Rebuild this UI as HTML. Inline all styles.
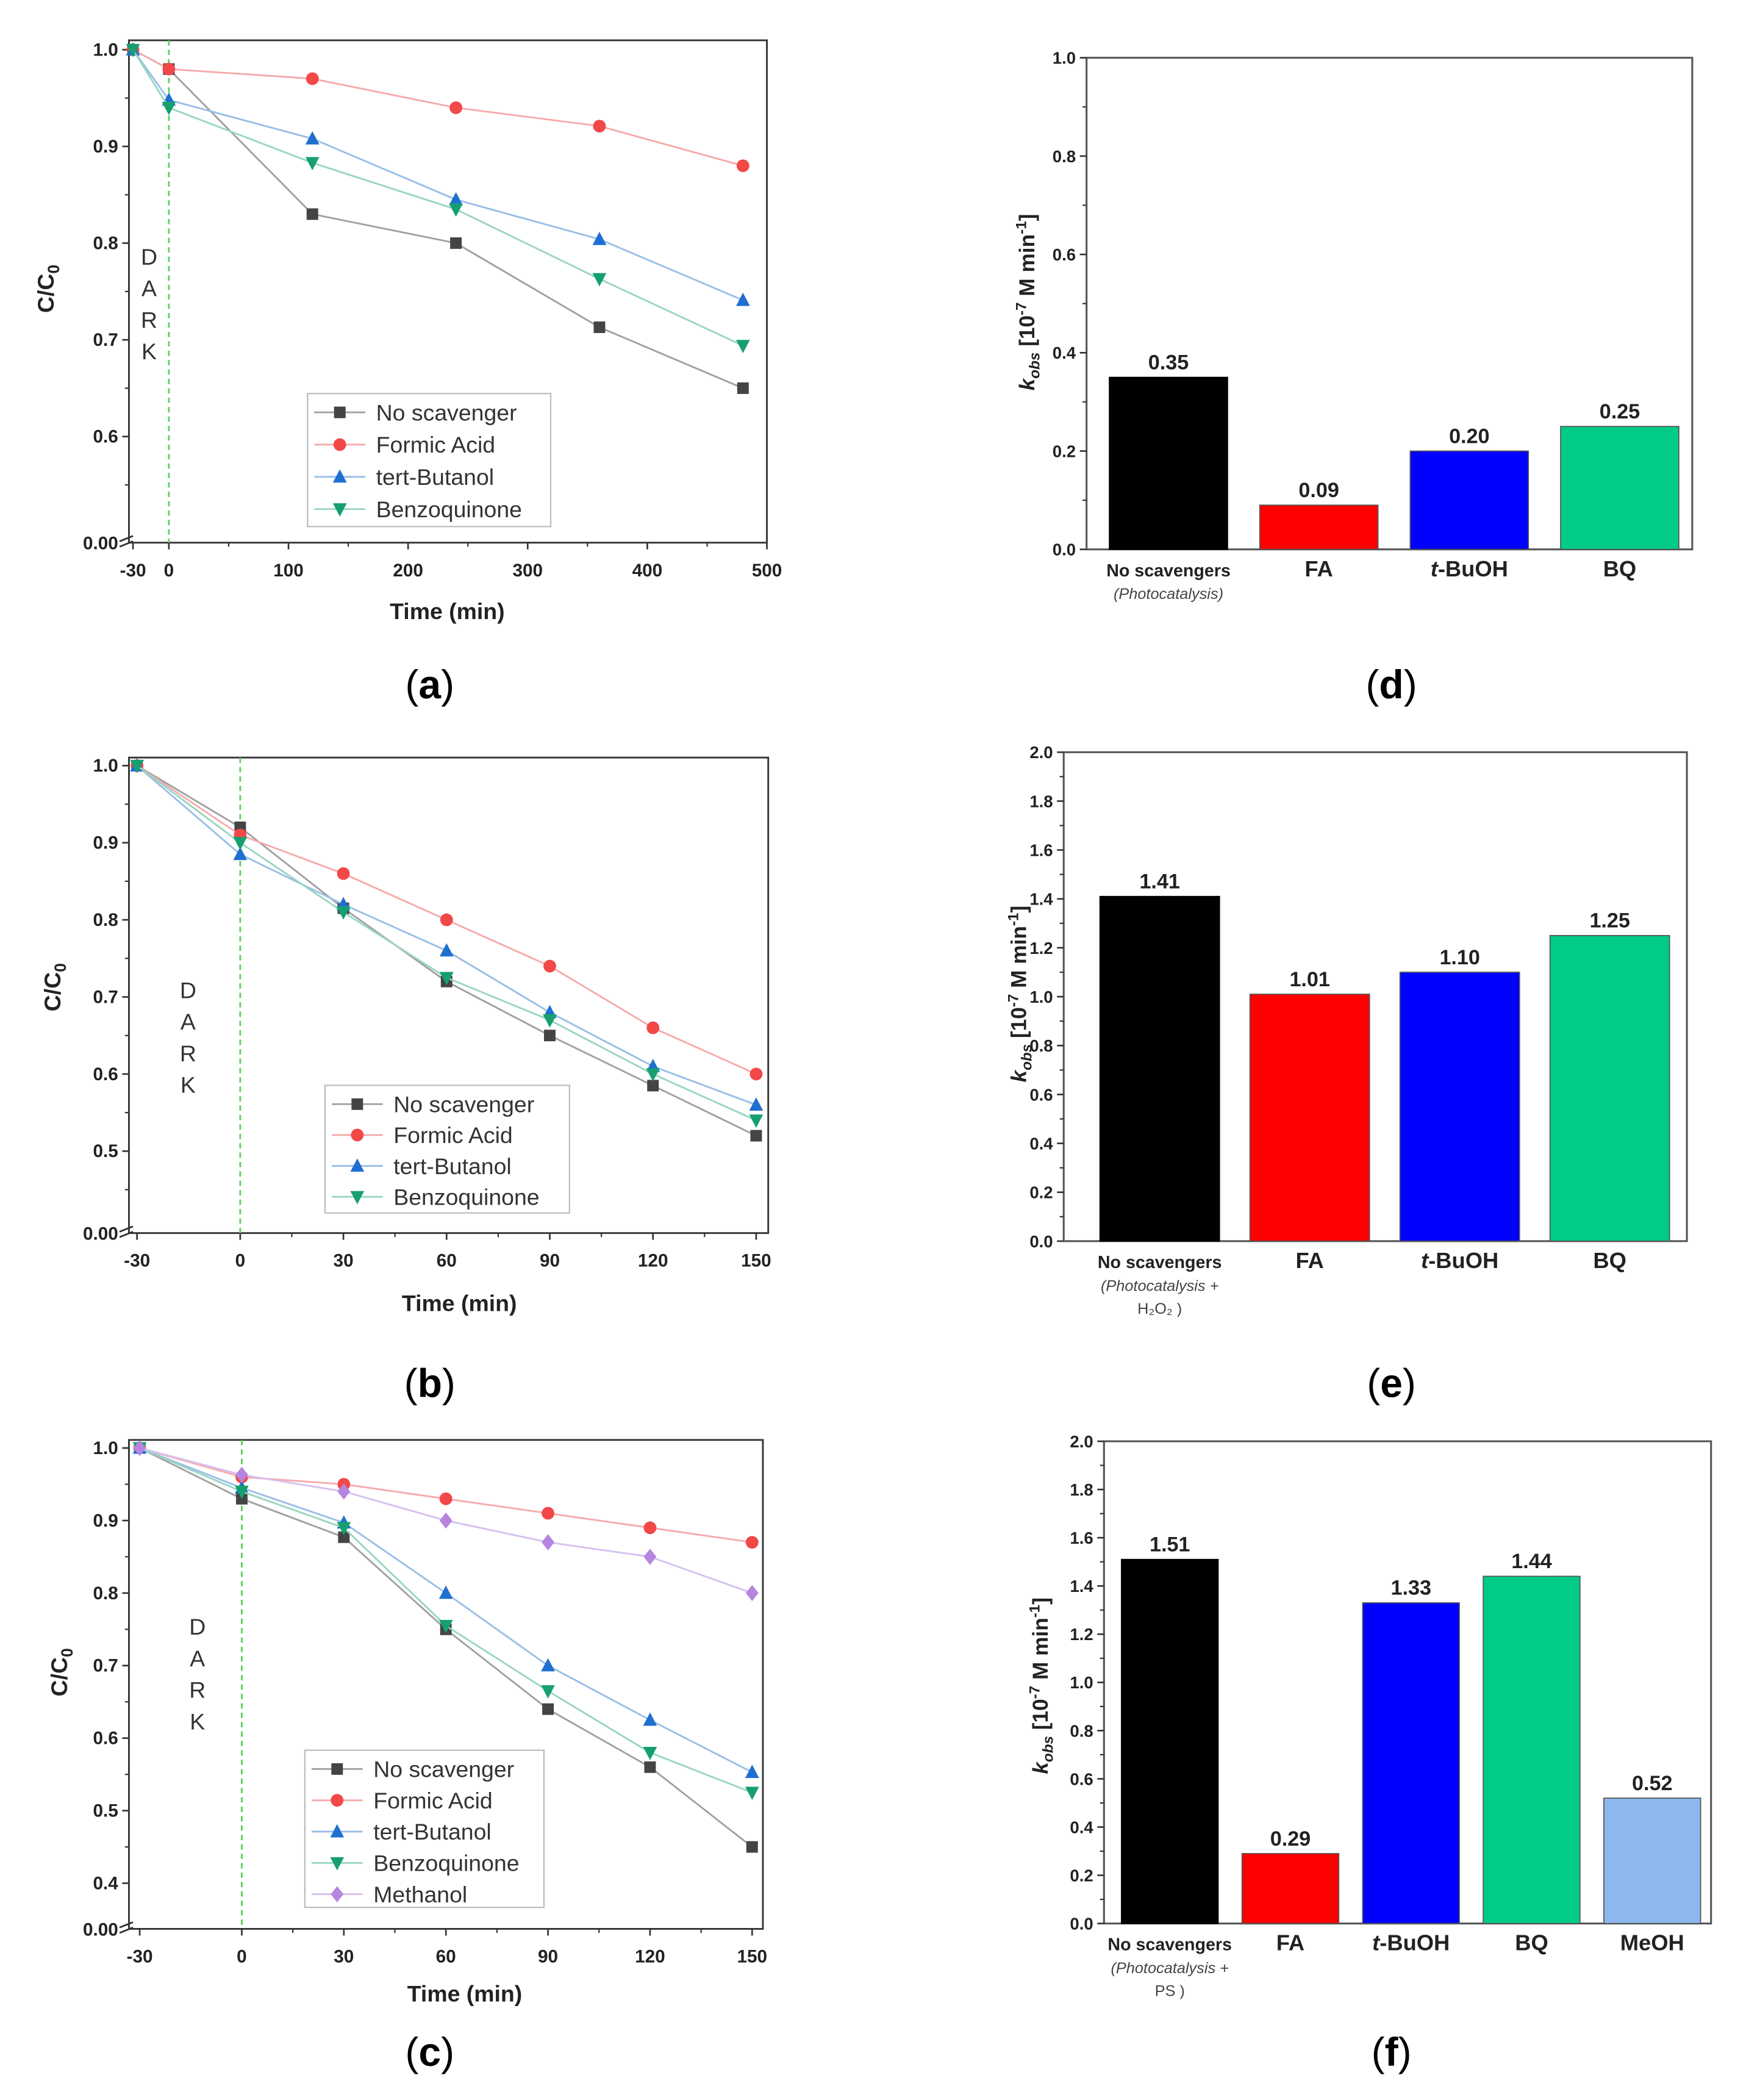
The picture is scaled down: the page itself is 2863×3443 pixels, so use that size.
<!DOCTYPE html>
<html><head><meta charset="utf-8">
<style>
html,body{margin:0;padding:0;background:#fff;}
svg{display:block;}
text{font-family:"Liberation Sans",sans-serif;}
</style></head>
<body>
<svg id="fig" xmlns="http://www.w3.org/2000/svg" width="2863" height="3443" viewBox="0 0 1300 1563.4"></svg>
<script>
// ---------- data ----------
const aTimes = [-30, 0, 120, 240, 360, 480];
const aNoScav = [1.0, 0.98, 0.83, 0.80, 0.713, 0.65];
const aFormic = [1.0, 0.98, 0.97, 0.94, 0.921, 0.88];
const aButanol = [1.0, 0.948, 0.908, 0.845, 0.804, 0.741];
const aBenzo = [1.0, 0.94, 0.883, 0.835, 0.763, 0.694];
const aXTicks = [-30, 0, 100, 200, 300, 400, 500];
const aYTicks = [0.6, 0.7, 0.8, 0.9, 1.0];

const bTimes = [-30, 0, 30, 60, 90, 120, 150];
const bNoScav = [1.0, 0.92, 0.815, 0.72, 0.65, 0.585, 0.52];
const bFormic = [1.0, 0.91, 0.86, 0.80, 0.74, 0.66, 0.60];
const bButanol = [1.0, 0.885, 0.82, 0.76, 0.68, 0.61, 0.56];
const bBenzo = [1.0, 0.90, 0.81, 0.725, 0.67, 0.60, 0.54];
const bXTicks = [-30, 0, 30, 60, 90, 120, 150];
const bYTicks = [0.5, 0.6, 0.7, 0.8, 0.9, 1.0];

const cTimes = [-30, 0, 30, 60, 90, 120, 150];
const cNoScav = [1.0, 0.93, 0.877, 0.75, 0.64, 0.56, 0.45];
const cFormic = [1.0, 0.96, 0.95, 0.93, 0.91, 0.89, 0.87];
const cButanol = [1.0, 0.945, 0.897, 0.80, 0.70, 0.625, 0.553];
const cBenzo = [1.0, 0.94, 0.89, 0.755, 0.665, 0.58, 0.525];
const cMethanol = [1.0, 0.963, 0.94, 0.90, 0.87, 0.85, 0.80];
const cXTicks = [-30, 0, 30, 60, 90, 120, 150];
const cYTicks = [0.4, 0.5, 0.6, 0.7, 0.8, 0.9, 1.0];

const dCats = ["No scavengers", "FA", "t-BuOH", "BQ"];
const dVals = [0.35, 0.09, 0.20, 0.25];
const dLabels = ["0.35", "0.09", "0.20", "0.25"];
const dYTicks = [0.0, 0.2, 0.4, 0.6, 0.8, 1.0];

const eCats = ["No scavengers", "FA", "t-BuOH", "BQ"];
const eVals = [1.41, 1.01, 1.10, 1.25];
const eLabels = ["1.41", "1.01", "1.10", "1.25"];
const eYTicks = [0.0, 0.2, 0.4, 0.6, 0.8, 1.0, 1.2, 1.4, 1.6, 1.8, 2.0];

const fCats = ["No scavengers", "FA", "t-BuOH", "BQ", "MeOH"];
const fVals = [1.51, 0.29, 1.33, 1.44, 0.52];
const fLabels = ["1.51", "0.29", "1.33", "1.44", "0.52"];
const fYTicks = [0.0, 0.2, 0.4, 0.6, 0.8, 1.0, 1.2, 1.4, 1.6, 1.8, 2.0];

// ---------- helpers ----------
const NS = "http://www.w3.org/2000/svg";
const svg = document.getElementById('fig');
function mk(parent, tag, attrs, name, txt) {
  const el = document.createElementNS(NS, tag);
  for (const k in attrs) el.setAttribute(k, attrs[k]);
  
  
  if (txt !== undefined) el.textContent = txt;
  parent.appendChild(el);
  return el;
}
const STY = {
  ns: {col: '#444', line: '#a0a0a0', m: 'sq'},
  fa: {col: '#f24848', line: '#f6aaaa', m: 'ci'},
  tb: {col: '#1f6fd0', line: '#98bee8', m: 'up'},
  bq: {col: '#15a06e', line: '#98d6c0', m: 'dn'},
  me: {col: '#b585e0', line: '#d6c0ee', m: 'di'}
};
function marker(g, type, x, y, col, s) {
  let el;
  if (type === 'sq') el = mk(g, 'rect', {x: x - s, y: y - s, width: 2 * s, height: 2 * s, fill: col}, 'marker-square');
  else if (type === 'ci') el = mk(g, 'circle', {cx: x, cy: y, r: s * 1.1, fill: col}, 'marker-circle');
  else if (type === 'up') el = mk(g, 'polygon', {points: `${x},${y - s * 1.3} ${x - s * 1.2},${y + s} ${x + s * 1.2},${y + s}`, fill: col}, 'marker-triangle-up');
  else if (type === 'dn') el = mk(g, 'polygon', {points: `${x},${y + s * 1.3} ${x - s * 1.2},${y - s} ${x + s * 1.2},${y - s}`, fill: col}, 'marker-triangle-down');
  else el = mk(g, 'polygon', {points: `${x},${y - s * 1.4} ${x + s * 1.1},${y} ${x},${y + s * 1.4} ${x - s * 1.1},${y}`, fill: col}, 'marker-diamond');
  return el;
}
function panelLabel(g, x, y, letter) {
  const t = mk(g, 'text', {x: x, y: y, 'text-anchor': 'middle', 'font-size': 30, 'font-family': 'Liberation Serif, serif', fill: '#000'}, 'panel-label', '');
  mk(t, 'tspan', {}, 'paren', '(');
  mk(t, 'tspan', {'font-weight': 'bold'}, 'panel-letter', letter);
  mk(t, 'tspan', {}, 'paren', ')');
}

function lineChart(cfg) {
  const g = mk(svg, 'g', {}, cfg.name);
  const X = v => cfg.x0 + (v - cfg.xmin) * (cfg.x1 - cfg.x0) / (cfg.xmax - cfg.xmin);
  const Y = v => cfg.yTop + (1.0 - v) * cfg.yPer;
  mk(g, 'rect', {x: cfg.bx0, y: cfg.by0, width: cfg.bx1 - cfg.bx0, height: cfg.by1 - cfg.by0, fill: 'none', stroke: '#333', 'stroke-width': 1.3}, 'plot-frame');
  cfg.yTicks.forEach(v => {
    mk(g, 'line', {x1: cfg.bx0, x2: cfg.bx0 - 5, y1: Y(v), y2: Y(v), stroke: '#333', 'stroke-width': 1.2}, 'y-tick');
    mk(g, 'text', {x: cfg.bx0 - 8, y: Y(v) + 4.5, 'text-anchor': 'end', 'font-size': 13.5, 'font-weight': 'bold', fill: '#222'}, 'y-tick-label', v.toFixed(1));
    const mv = v - 0.05;
    if (Y(mv) < cfg.by1 - 12) mk(g, 'line', {x1: cfg.bx0, x2: cfg.bx0 - 3, y1: Y(mv), y2: Y(mv), stroke: '#333', 'stroke-width': 1}, 'y-minor-tick');
  });
  mk(g, 'text', {x: cfg.bx0 - 8, y: cfg.by1 + 5, 'text-anchor': 'end', 'font-size': 13.5, 'font-weight': 'bold', fill: '#222'}, 'y-tick-label-zero', '0.00');
  mk(g, 'line', {x1: cfg.bx0 - 7, x2: cfg.bx0 + 3, y1: cfg.by1 - 1, y2: cfg.by1 - 5, stroke: '#333', 'stroke-width': 1.3}, 'axis-break');
  mk(g, 'line', {x1: cfg.bx0 - 7, x2: cfg.bx0 + 3, y1: cfg.by1 + 3, y2: cfg.by1 - 1, stroke: '#333', 'stroke-width': 1.3}, 'axis-break');
  cfg.xTicks.forEach((v, i) => {
    mk(g, 'line', {x1: X(v), x2: X(v), y1: cfg.by1, y2: cfg.by1 + 5, stroke: '#333', 'stroke-width': 1.2}, 'x-tick');
    mk(g, 'text', {x: X(v), y: cfg.by1 + 25, 'text-anchor': 'middle', 'font-size': 13.5, 'font-weight': 'bold', fill: '#222'}, 'x-tick-label', String(v));
    if (i > 0) {
      const mv = (v + cfg.xTicks[i - 1]) / 2;
      if (cfg.xTicks[i - 1] >= 0) mk(g, 'line', {x1: X(mv), x2: X(mv), y1: cfg.by1, y2: cfg.by1 + 3, stroke: '#333', 'stroke-width': 1}, 'x-minor-tick');
    }
  });
  mk(g, 'line', {x1: X(0), x2: X(0), y1: cfg.by0, y2: cfg.by1, stroke: '#5ad35a', 'stroke-width': 1.3, 'stroke-dasharray': '4,3'}, 'dark-boundary-line');
  ['D', 'A', 'R', 'K'].forEach((ch, i) => {
    mk(g, 'text', {x: cfg.darkX, y: cfg.darkY + i * 23.5, 'text-anchor': 'middle', 'font-size': 17, fill: '#333'}, 'dark-label-letter', ch);
  });
  cfg.series.forEach(s => {
    const st = STY[s.key];
    const pts = cfg.times.map((t, i) => `${X(t)},${Y(s.vals[i])}`).join(' ');
    mk(g, 'polyline', {points: pts, fill: 'none', stroke: st.line, 'stroke-width': 1.3}, 'series-line-' + s.key);
    cfg.times.forEach((t, i) => marker(g, st.m, X(t), Y(s.vals[i]), st.col, 4.3));
  });
  const lg = mk(g, 'g', {}, 'legend');
  mk(lg, 'rect', {x: cfg.lx0, y: cfg.ly0, width: cfg.lx1 - cfg.lx0, height: cfg.ly1 - cfg.ly0, fill: '#fff', stroke: '#bbb', 'stroke-width': 1}, 'legend-box');
  cfg.series.forEach((s, i) => {
    const st = STY[s.key];
    const yy = cfg.ly0 + 14 + i * cfg.lstep;
    mk(lg, 'line', {x1: cfg.lx0 + 5, x2: cfg.lx0 + 43, y1: yy, y2: yy, stroke: st.line, 'stroke-width': 1.3}, 'legend-line');
    marker(lg, st.m, cfg.lx0 + 24, yy, st.col, 4.3);
    mk(lg, 'text', {x: cfg.lx0 + 51, y: yy + 6, 'font-size': 17, fill: '#333'}, 'legend-entry', s.label);
  });
  const yt = mk(g, 'text', {x: 0, y: 0, transform: `translate(${cfg.ytx},${cfg.yty}) rotate(-90)`, 'text-anchor': 'middle', 'font-size': 17, 'font-weight': 'bold', fill: '#222'}, 'y-axis-title', 'C/C');
  mk(yt, 'tspan', {'font-size': 12, dy: 4}, 'y-axis-subscript', '0');
  mk(g, 'text', {x: cfg.xtx, y: cfg.xty, 'text-anchor': 'middle', 'font-size': 17, 'font-weight': 'bold', fill: '#222'}, 'x-axis-title', 'Time (min)');
  panelLabel(g, 320, cfg.panelY, cfg.panel);
}

function barChart(cfg) {
  const g = mk(svg, 'g', {}, cfg.name);
  const Y = v => cfg.by1 - v * (cfg.by1 - cfg.by0) / cfg.ymax;
  mk(g, 'rect', {x: cfg.bx0, y: cfg.by0, width: cfg.bx1 - cfg.bx0, height: cfg.by1 - cfg.by0, fill: 'none', stroke: '#555', 'stroke-width': 1.4}, 'plot-frame');
  cfg.yTicks.forEach((v, i) => {
    mk(g, 'line', {x1: cfg.bx0, x2: cfg.bx0 - 5, y1: Y(v), y2: Y(v), stroke: '#333', 'stroke-width': 1.2}, 'y-tick');
    mk(g, 'text', {x: cfg.bx0 - 8, y: Y(v) + 4.5, 'text-anchor': 'end', 'font-size': 12.5, 'font-weight': 'bold', fill: '#222'}, 'y-tick-label', v.toFixed(1));
    if (i > 0) {
      const mv = (v + cfg.yTicks[i - 1]) / 2;
      mk(g, 'line', {x1: cfg.bx0, x2: cfg.bx0 - 3, y1: Y(mv), y2: Y(mv), stroke: '#333', 'stroke-width': 1}, 'y-minor-tick');
    }
  });
  const cols = ['#000000', '#ff0000', '#0000ff', '#00cc88', '#8db8ee'];
  cfg.vals.forEach((v, i) => {
    const x = cfg.start + i * cfg.step;
    const w = cfg.bw;
    mk(g, 'rect', {x: x, y: Y(v), width: w, height: Y(0) - Y(v), fill: cols[i], stroke: i === 0 ? '#000' : '#555', 'stroke-width': 0.8}, 'bar-' + cfg.cats[i].toLowerCase().replace(/[^a-z]+/g, '-'));
    mk(g, 'text', {x: x + w / 2, y: Y(v) - 6, 'text-anchor': 'middle', 'font-size': 15.5, 'font-weight': 'bold', fill: '#222'}, 'bar-value-label', cfg.labels[i]);
    const cx = x + w / 2;
    const lab = mk(g, 'text', {x: cx, y: cfg.by1 + 20, 'text-anchor': 'middle', 'font-size': i === 0 ? 13 : 16.5, 'font-weight': 'bold', fill: '#222'}, 'x-category-label', '');
    if (cfg.cats[i] === 't-BuOH') {
      mk(lab, 'tspan', {'font-style': 'italic'}, 'italic-t', 't');
      mk(lab, 'tspan', {}, 'category-rest', '-BuOH');
    } else lab.textContent = cfg.cats[i];
    if (i === 0) {
      cfg.subs.forEach((s, j) => {
        mk(g, 'text', {x: cx, y: cfg.by1 + 37 + j * 17, 'text-anchor': 'middle', 'font-size': 11.5, 'font-style': j === 0 ? 'italic' : 'normal', fill: '#444'}, 'x-category-sublabel', s);
      });
    }
  });
  const yt = mk(g, 'text', {x: 0, y: 0, transform: `translate(${cfg.ytx},${cfg.yty}) rotate(-90)`, 'text-anchor': 'middle', 'font-size': 16, 'font-weight': 'bold', fill: '#222'}, 'y-axis-title', '');
  mk(yt, 'tspan', {'font-style': 'italic'}, 'k-symbol', 'k');
  mk(yt, 'tspan', {'font-size': 11, dy: 4, 'font-style': 'italic'}, 'obs-subscript', 'obs');
  mk(yt, 'tspan', {dy: -4}, 'unit-part', ' [10');
  mk(yt, 'tspan', {'font-size': 11, dy: -6}, 'exp-superscript', '-7');
  mk(yt, 'tspan', {dy: 6}, 'unit-part', ' M min');
  mk(yt, 'tspan', {'font-size': 11, dy: -6}, 'exp-superscript', '-1');
  mk(yt, 'tspan', {dy: 6}, 'unit-part', ']');
  panelLabel(g, 1036, cfg.panelY, cfg.panel);
}

lineChart({name: 'chart-a', panel: 'a', panelY: 520, times: aTimes, xmin: -30, xmax: 500, x0: 99, x1: 571,
  yTop: 37, yPer: 720, bx0: 96, bx1: 571, by0: 30, by1: 404, xTicks: aXTicks, yTicks: aYTicks,
  darkX: 111, darkY: 197, lx0: 229, lx1: 410, ly0: 293, ly1: 392, lstep: 24,
  ytx: 40, yty: 215, xtx: 333, xty: 461,
  series: [{key: 'ns', vals: aNoScav, label: 'No scavenger'}, {key: 'fa', vals: aFormic, label: 'Formic Acid'},
           {key: 'tb', vals: aButanol, label: 'tert-Butanol'}, {key: 'bq', vals: aBenzo, label: 'Benzoquinone'}]});

lineChart({name: 'chart-b', panel: 'b', panelY: 1040, times: bTimes, xmin: -30, xmax: 150, x0: 102, x1: 563,
  yTop: 570, yPer: 574, bx0: 96, bx1: 572, by0: 564, by1: 918, xTicks: bXTicks, yTicks: bYTicks,
  darkX: 140, darkY: 743, lx0: 242, lx1: 424, ly0: 808, ly1: 903, lstep: 23,
  ytx: 45, yty: 735, xtx: 342, xty: 976,
  series: [{key: 'ns', vals: bNoScav, label: 'No scavenger'}, {key: 'fa', vals: bFormic, label: 'Formic Acid'},
           {key: 'tb', vals: bButanol, label: 'tert-Butanol'}, {key: 'bq', vals: bBenzo, label: 'Benzoquinone'}]});

lineChart({name: 'chart-c', panel: 'c', panelY: 1538, times: cTimes, xmin: -30, xmax: 150, x0: 104, x1: 560,
  yTop: 1078, yPer: 540, bx0: 96, bx1: 568, by0: 1072, by1: 1436, xTicks: cXTicks, yTicks: cYTicks,
  darkX: 147, darkY: 1217, lx0: 227, lx1: 405, ly0: 1303, ly1: 1420, lstep: 23.3,
  ytx: 50, yty: 1245, xtx: 346, xty: 1490,
  series: [{key: 'ns', vals: cNoScav, label: 'No scavenger'}, {key: 'fa', vals: cFormic, label: 'Formic Acid'},
           {key: 'tb', vals: cButanol, label: 'tert-Butanol'}, {key: 'bq', vals: cBenzo, label: 'Benzoquinone'},
           {key: 'me', vals: cMethanol, label: 'Methanol'}]});

barChart({name: 'chart-d', panel: 'd', panelY: 520, cats: dCats, vals: dVals, labels: dLabels, yTicks: dYTicks, ymax: 1.0,
  bx0: 809, bx1: 1260, by0: 43, by1: 409, start: 826, step: 112, bw: 88, subs: ['(Photocatalysis)'], ytx: 770, yty: 225});
barChart({name: 'chart-e', panel: 'e', panelY: 1040, cats: eCats, vals: eVals, labels: eLabels, yTicks: eYTicks, ymax: 2.0,
  bx0: 792, bx1: 1256, by0: 560, by1: 924, start: 819, step: 111.7, bw: 89, subs: ['(Photocatalysis +', 'H\u2082O\u2082 )'], ytx: 764, yty: 740});
barChart({name: 'chart-f', panel: 'f', panelY: 1538, cats: fCats, vals: fVals, labels: fLabels, yTicks: fYTicks, ymax: 2.0,
  bx0: 822, bx1: 1274, by0: 1073, by1: 1432, start: 835, step: 89.8, bw: 72, subs: ['(Photocatalysis +', 'PS )'], ytx: 780, yty: 1255});
</script>
</body></html>
